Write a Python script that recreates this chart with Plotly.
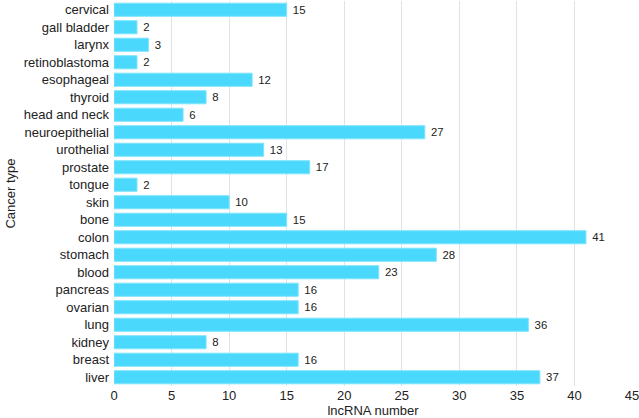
import plotly.graph_objects as go

categories = ["cervical", "gall bladder", "larynx", "retinoblastoma", "esophageal", "thyroid",
              "head and neck", "neuroepithelial", "urothelial", "prostate", "tongue", "skin",
              "bone", "colon", "stomach", "blood", "pancreas", "ovarian", "lung", "kidney",
              "breast", "liver"]
values = [15, 2, 3, 2, 12, 8, 6, 27, 13, 17, 2, 10, 15, 41, 28, 23, 16, 16, 36, 8, 16, 37]
x_ticks = [0, 5, 10, 15, 20, 25, 30, 35, 40, 45]

FONT = "Liberation Sans"

fig = go.Figure(go.Bar(
    x=values, y=categories, orientation="h",
    marker=dict(color="#4ad8fc", line=dict(color="#7fe4fd", width=1)),
    text=[" " + str(v) for v in values], textposition="outside",
    textfont=dict(color="#222222", size=13, family=FONT),
    cliponaxis=False,
))

fig.update_layout(
    width=639, height=418,
    margin=dict(l=114, r=7, t=1, b=32, autoexpand=False),
    paper_bgcolor="white", plot_bgcolor="white",
    font=dict(family=FONT, size=13, color="#222222"),
    bargap=0.25,
    showlegend=False,
)
fig.update_xaxes(
    range=[0, 45], tickvals=x_ticks, showgrid=True, gridcolor="#dde3e8", gridwidth=1,
    zeroline=False, showline=False, ticks="", automargin=False,
    ticklabeloverflow="allow",
    title=dict(text="lncRNA number", standoff=9, font=dict(size=13)),
    tickfont=dict(size=13),
)
fig.update_yaxes(
    autorange="reversed", showgrid=False, showline=False,
    ticks="", automargin=False, ticklabelstandoff=4,
    title=dict(text="Cancer type", standoff=5, font=dict(size=13)),
    tickfont=dict(size=13),
)

fig.write_html("out.html", config={"displayModeBar": False},
               post_script="document.body.style.margin='0px';document.body.style.overflow='hidden';")
